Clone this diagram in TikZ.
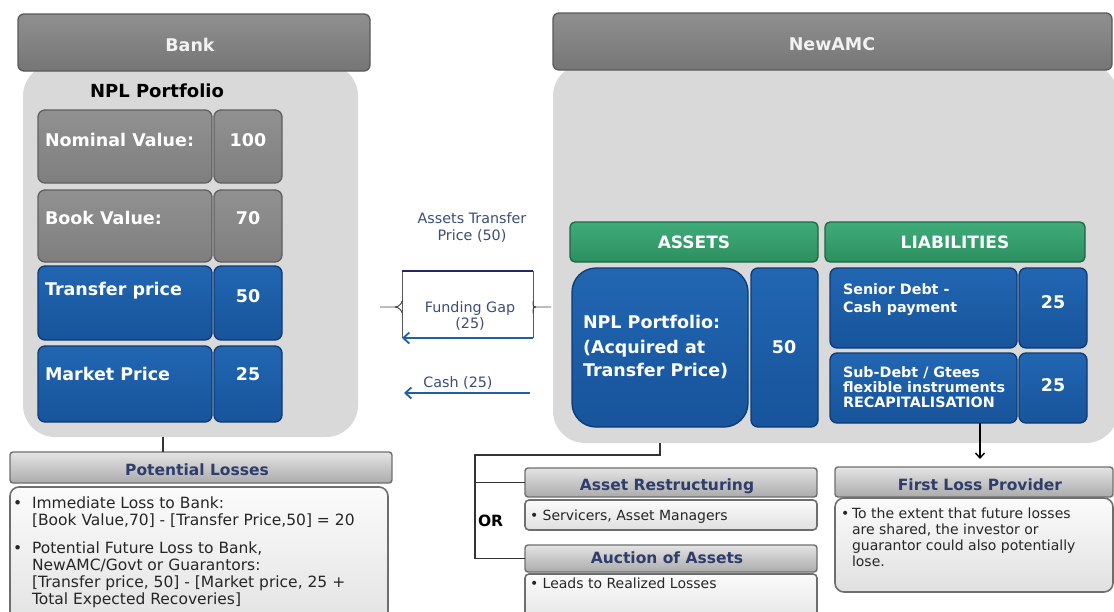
\documentclass[tikz,border=0pt]{standalone}
\usepackage{fontspec}
\setmainfont{DejaVu Sans}
\usetikzlibrary{arrows.meta}

% palette
\definecolor{panelgray}{HTML}{D9D9D9}
\definecolor{hdrgray}{HTML}{808080}
\definecolor{hdredge}{HTML}{595959}
\definecolor{cellgray}{HTML}{858585}
\definecolor{celledge}{HTML}{5F5F5F}
\definecolor{blueTop}{HTML}{2266B2}
\definecolor{blueBot}{HTML}{17549B}
\definecolor{blueEdge}{HTML}{0D3A75}
\definecolor{greenTop}{HTML}{3FAC79}
\definecolor{greenBot}{HTML}{2C8F5F}
\definecolor{greenEdge}{HTML}{1C6642}
\definecolor{noteTop}{HTML}{E4E4E4}
\definecolor{noteBot}{HTML}{ABABAB}
\definecolor{noteEdge}{HTML}{6E6E6E}
\definecolor{bodyTop}{HTML}{FBFBFB}
\definecolor{bodyBot}{HTML}{E0E0E0}
\definecolor{hdrtext}{HTML}{F2F2F2}
\definecolor{navytext}{HTML}{2E3D6B}
\definecolor{midtext}{HTML}{3C4C78}
\definecolor{bodytext}{HTML}{262626}
\definecolor{arrowblue}{HTML}{1F5FA8}
\definecolor{navyline}{HTML}{23256A}

% a box given by its top-left and bottom-right corners
\newcommand\cellbox[6]{%
  \node[#6, anchor=north west, minimum width={(#4)-(#2)},
        minimum height={(#5)-(#3)}] (#1) at (#2,#3) {};}

\tikzset{
  every node/.style={inner sep=0pt, outer sep=0pt},
  topbar/.style={top color=hdrgray!88!white, bottom color=hdrgray!92!black,
                 draw=hdredge, line width=1.3pt, rounded corners=6pt},
  bodypanel/.style={fill=panelgray, rounded corners=32pt},
  graycell/.style={top color=cellgray!90!white, bottom color=cellgray!95!black,
                   draw=celledge, line width=1.3pt, rounded corners=7pt},
  bluecell/.style={top color=blueTop, bottom color=blueBot,
                   draw=blueEdge, line width=1.3pt, rounded corners=7pt},
  greenbar/.style={top color=greenTop, bottom color=greenBot,
                   draw=greenEdge, line width=1.3pt, rounded corners=5pt},
  notehead/.style={top color=noteTop, bottom color=noteBot,
                   draw=noteEdge, line width=1.4pt, rounded corners=3pt},
  notebody/.style={top color=bodyTop, bottom color=bodyBot,
                   draw=noteEdge, line width=1.6pt, rounded corners=9pt},
  hdrtxt/.style={text=hdrtext, font=\fontsize{17.5}{20}\selectfont\bfseries, anchor=base},
  celltxt/.style={text=white, font=\fontsize{17.5}{20}\selectfont\bfseries, anchor=base west},
  valtxt/.style={text=white, font=\fontsize{17.5}{20}\selectfont\bfseries, anchor=base},
  smalltxt/.style={text=white, font=\fontsize{14.3}{15}\selectfont\bfseries, anchor=base west},
  midlbl/.style={text=midtext, font=\fontsize{14.3}{16}\selectfont, anchor=base},
  notetitle/.style={text=navytext, font=\fontsize{15.5}{18}\selectfont\bfseries, anchor=base},
  notetxt/.style={text=bodytext, font=\fontsize{15.5}{18}\selectfont, anchor=base west},
  notesmall/.style={text=bodytext, font=\fontsize{14}{16}\selectfont, anchor=base west},
  link/.style={draw=black!80, line width=1.3pt},
  flowarrow/.style={draw=arrowblue, line width=2pt,
                    -{Straight Barb[length=6pt,width=11pt,line width=1.8pt]}},
  downarrow/.style={draw=black, line width=1.4pt,
                    -{Straight Barb[length=5pt,width=9pt,line width=1.4pt]}},
}

\begin{document}
\begin{tikzpicture}[x=1pt,y=-1pt]
\useasboundingbox (0,0) rectangle (1114,611);

% ---------------- Bank ----------------
\cellbox{bankbody}{23}{64}{358}{437}{bodypanel}
\cellbox{bankhdr}{18}{14}{370}{71}{topbar}
\node[hdrtxt] (banktxt) at (190,51) {Bank};
\node[anchor=base, font=\fontsize{18}{20}\selectfont\bfseries, text=black] (nplhead) at (157,97) {NPL Portfolio};

\cellbox{nomL}{38}{110}{212}{183}{graycell}
\cellbox{nomV}{214}{110}{282}{183}{graycell}
\cellbox{bookL}{38}{190}{212}{262}{graycell}
\cellbox{bookV}{214}{190}{282}{262}{graycell}
\cellbox{trL}{38}{266}{212}{340}{bluecell}
\cellbox{trV}{214}{266}{282}{340}{bluecell}
\cellbox{mkL}{38}{346}{212}{422}{bluecell}
\cellbox{mkV}{214}{346}{282}{422}{bluecell}

\node[celltxt] (nomT) at (45,146) {Nominal Value:};
\node[valtxt]  (nomN) at (248,146) {100};
\node[celltxt] (bookT) at (45,224) {Book Value:};
\node[valtxt]  (bookN) at (248,224) {70};
\node[celltxt] (trT) at (45,295) {Transfer price};
\node[valtxt]  (trN) at (248,302) {50};
\node[celltxt] (mkT) at (45,380) {Market Price};
\node[valtxt]  (mkN) at (248,380) {25};

% ---------------- NewAMC ----------------
\cellbox{amcbody}{553}{64}{1118}{443}{bodypanel}
\cellbox{amchdr}{553}{13}{1112}{70}{topbar}
\node[hdrtxt] (amctxt) at (832,50) {NewAMC};

\cellbox{assets}{570}{222}{818}{262}{greenbar}
\cellbox{liabs}{825}{222}{1085}{262}{greenbar}
\node[hdrtxt, text=white, font=\fontsize{17}{20}\selectfont\bfseries] (assetsT) at (694,248) {ASSETS};
\node[hdrtxt, text=white, font=\fontsize{17}{20}\selectfont\bfseries] (liabsT) at (955,248) {LIABILITIES};

\cellbox{nplbox}{572}{268}{748}{427}{bluecell, rounded corners=24pt}
\cellbox{nplV}{751}{268}{818}{427}{bluecell}
\node[celltxt] (npl1) at (583,328) {NPL Portfolio:};
\node[celltxt] (npl2) at (583,353) {(Acquired at};
\node[celltxt] (npl3) at (583,376) {Transfer Price)};
\node[valtxt] (nplN) at (784,353) {50};

\cellbox{senior}{830}{268}{1017}{348}{bluecell}
\cellbox{seniorV}{1019}{268}{1087}{348}{bluecell}
\cellbox{subdebt}{830}{353}{1017}{423}{bluecell}
\cellbox{subdebtV}{1019}{353}{1087}{423}{bluecell}
\node[smalltxt] (sen1) at (843,294) {Senior Debt -};
\node[smalltxt] (sen2) at (843,312) {Cash payment};
\node[valtxt] (senN) at (1053,308) {25};
\node[smalltxt] (sub1) at (843,377) {Sub-Debt / Gtees};
\node[smalltxt] (sub2) at (843,392) {flexible instruments};
\node[smalltxt] (sub3) at (843,407) {RECAPITALISATION};
\node[valtxt] (subN) at (1053,391) {25};

% ---------------- transfer flows ----------------
\node[midlbl] (atp1) at (472,223) {Assets Transfer};
\node[midlbl] (atp2) at (472,240) {Price (50)};
\node[midlbl] (fg1) at (470,312) {Funding Gap};
\node[midlbl] (fg2) at (470,328) {(25)};
\node[midlbl] (cashT) at (458,387) {Cash (25)};

\coordinate (brTL) at (402,271);
\coordinate (brTR) at (533,271);
\coordinate (brBL) at (402,338);
\coordinate (brBR) at (533,338);
\coordinate (tickL) at (380,307);
\coordinate (tickR) at (551,307);
\draw[black!65, line width=0.9pt] (brTL) -- (brBL);
\draw[black!65, line width=0.9pt] (brTR) -- (brBR);
\draw[navyline, line width=2.4pt] (brTL) -- (brTR);
\draw[flowarrow] (brBR) -- (brBL);
\draw[black!75, line width=0.9pt] (tickL) -- ++(15,0) .. controls +(4,0) and +(0,2) .. (brTL |- 0,301);
\draw[black!75, line width=0.9pt] (tickL) ++(15,0) .. controls +(4,0) and +(0,-2) .. (brTL |- 0,313);
\draw[black!75, line width=0.9pt] (tickR) -- ++(-15,0) .. controls +(-4,0) and +(0,2) .. (brTR |- 0,301);
\draw[black!75, line width=0.9pt] (tickR) ++(-15,0) .. controls +(-4,0) and +(0,-2) .. (brTR |- 0,313);

\coordinate (cashR) at (530,393);
\coordinate (cashL) at (404,393);
\draw[flowarrow] (cashR) -- (cashL);

% ---------------- Potential losses ----------------
\cellbox{plbody}{10}{487}{388}{640}{notebody}
\cellbox{plhead}{10}{452}{392}{483}{notehead}
\node[notetitle] (plT) at (197,475) {Potential Losses};
\coordinate (pltick) at (163,0);
\draw[link] (bankbody.south -| pltick) -- (plhead.north -| pltick);
\node[notetxt] (pl1b) at (13,508) {•};
\node[notetxt] (pl1) at (32,508) {Immediate Loss to Bank:};
\node[notetxt] (pl2) at (32,525) {[Book Value,70] - [Transfer Price,50] = 20};
\node[notetxt] (pl3b) at (13,553) {•};
\node[notetxt] (pl3) at (32,553) {Potential Future Loss to Bank,};
\node[notetxt] (pl4) at (32,570) {NewAMC/Govt or Guarantors:};
\node[notetxt] (pl5) at (32,587) {[Transfer price, 50] - [Market price, 25 +};
\node[notetxt] (pl6) at (32,604) {Total Expected Recoveries]};

% ---------------- asset resolution options ----------------
\cellbox{arbody}{525}{500}{817}{530}{notebody, rounded corners=4pt}
\cellbox{arhead}{525}{468}{817}{497}{notehead}
\node[notetitle] (arT) at (667,490) {Asset Restructuring};
\node[notesmall] (arB) at (530,520) {• Servicers, Asset Managers};

\cellbox{aubody}{525}{574}{817}{630}{notebody, rounded corners=4pt}
\cellbox{auchead}{525}{545}{817}{572}{notehead}
\node[notetitle] (auT) at (667,563) {Auction of Assets};
\node[notesmall] (auB) at (530,588) {• Leads to Realized Losses};

\node[anchor=base west, font=\fontsize{15.5}{18}\selectfont\bfseries, text=black] (orT) at (478,526) {OR};

\coordinate (orjoin) at (475,455);
\draw[link] (nplbox.south |- amcbody.south) -- (nplbox.south |- orjoin) -- (orjoin)
            -- (orjoin |- auchead.west) -- (auchead.west);
\draw[link] (orjoin |- arhead.west) -- (arhead.west);

% ---------------- first loss provider ----------------
\cellbox{flbody}{835}{498}{1113}{592}{notebody}
\cellbox{flhead}{835}{467}{1113}{497}{notehead}
\node[notetitle] (flT) at (980,490) {First Loss Provider};
\node[notesmall] (flb) at (841,518) {•};
\node[notesmall] (fl1) at (852,518) {To the extent that future losses};
\node[notesmall] (fl2) at (852,534) {are shared, the investor or};
\node[notesmall] (fl3) at (852,550) {guarantor could also potentially};
\node[notesmall] (fl4) at (852,566) {lose.};

\coordinate (flx) at (980,0);
\coordinate (fltip) at (0,459);
\draw[downarrow] (subdebt.south -| flx) -- (flx |- fltip);
\end{tikzpicture}
\end{document}
